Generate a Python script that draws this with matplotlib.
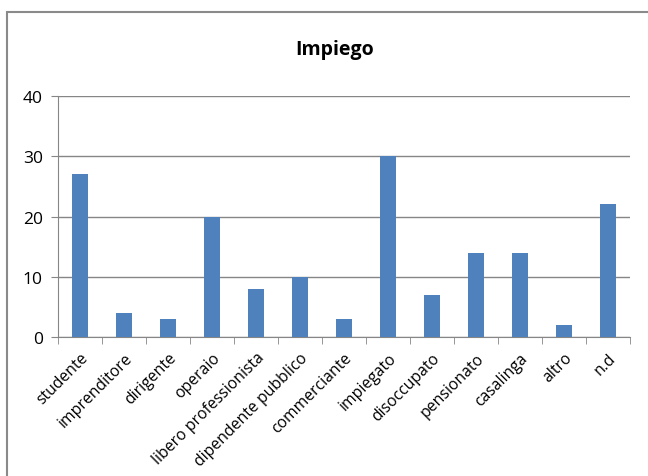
import matplotlib
matplotlib.use("Agg")
import matplotlib.pyplot as plt
from matplotlib.patches import Rectangle
import numpy as np

categories = ["studente", "imprenditore", "dirigente", "operaio", "libero professionista",
              "dipendente pubblico", "commerciante", "impiegato", "disoccupato", "pensionato",
              "casalinga", "altro", "n.d"]
values = [27, 4, 3, 20, 8, 10, 3, 30, 7, 14, 14, 2, 22]
y_ticks = [0, 10, 20, 30, 40]

plt.rcParams["font.family"] = ["Open Sans", "DejaVu Sans"]

fig = plt.figure(figsize=(6.48, 4.77), dpi=100)
W, H = 648, 477

# chart frame (continues past the right and bottom edges)
fig.patches.append(Rectangle((7 / W, -0.1), 1.2, 1.1 - 13 / H, transform=fig.transFigure,
                             fill=False, edgecolor="#8a8a8a", linewidth=1.5, clip_on=False))

ax = fig.add_axes([58 / W, 1 - 338 / H, (630 - 58) / W, (338 - 97) / H])
x = np.arange(len(categories))
ax.bar(x, values, width=0.36, color="#4f81bd", zorder=3)

ax.set_xlim(-0.5, len(categories) - 0.5)
ax.set_ylim(0, 40)
ax.set_yticks(y_ticks)
ax.yaxis.grid(True, color="#868686", linewidth=1.0, zorder=0)
for s in ["top", "right"]:
    ax.spines[s].set_visible(False)
for s in ["left", "bottom"]:
    ax.spines[s].set_color("#868686")
ax.tick_params(axis="y", length=5, color="#868686", labelsize=12.5, pad=6)

ax.set_xticks(x)
ax.set_xticklabels(categories, rotation=45, ha="right", rotation_mode="anchor", fontsize=11.3)
ax.tick_params(axis="x", which="major", length=0, pad=9)
ax.set_xticks(np.arange(len(categories) + 1) - 0.5, minor=True)
ax.tick_params(axis="x", which="minor", length=5, color="#868686")

fig.text(335 / W, 1 - 50 / H, "Impiego", ha="center", va="center", fontsize=14, fontweight="bold")

fig.savefig("out.png", dpi=100)
